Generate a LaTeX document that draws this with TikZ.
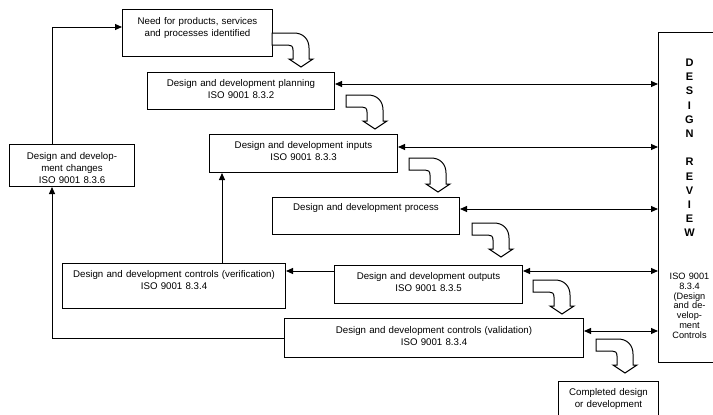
\documentclass[tikz,border=0pt]{standalone}
\usepackage{fontspec}
\setmainfont{Liberation Sans}
\usetikzlibrary{arrows.meta}
\tikzset{
  box/.style={draw, line width=1pt, align=center, inner sep=0pt, anchor=north west},
  arr/.style={-{Triangle[length=7pt,width=6pt]}, line width=1pt},
  dbl/.style={{Triangle[length=7pt,width=6pt]}-{Triangle[length=7pt,width=6pt]}, line width=1pt},
  turn/.pic={\draw[line width=1pt, fill=white] (0,0) -- (22,0) .. controls (31,0) and (37,6) .. (37,15) -- (37,26) -- (41,26) -- (29,34) -- (17,26) -- (21,26) -- (21,17) .. controls (21,13) and (19,12) .. (16,12) -- (0,12) -- cycle;}
}
\begin{document}
\begin{tikzpicture}[x=1pt, y=-1pt, font=\fontsize{9.7}{12}\selectfont]
    \useasboundingbox (0,0) rectangle (713,415);
    \node[box, text width=150pt, text height=15pt, text depth=32pt] (need) at (122,9) {Need for products, services\\and processes identified};
    \node[box, text width=187pt, text height=14pt, text depth=23pt] (plan) at (147,72) {Design and development planning\\ISO 9001 8.3.2};
    \node[box, text width=188pt, text height=14pt, text depth=24pt] (inputs) at (209,134) {Design and development inputs\\ISO 9001 8.3.3};
    \node[box, text width=187pt, text height=13pt, text depth=24pt] (process) at (272,197) {Design and development process};
    \node[box, text width=188pt, text height=14pt, text depth=24pt] (outputs) at (334,265) {Design and development outputs\\ISO 9001 8.3.5};
    \node[box, text width=223pt, text height=14pt, text depth=31pt] (verif) at (62,263) {Design and development controls (verification)\\ISO 9001 8.3.4};
    \node[box, text width=299pt, text height=15pt, text depth=24pt] (valid) at (284,318) {Design and development controls (validation)\\ISO 9001 8.3.4};
    \node[box, text width=125pt, text height=15pt, text depth=27pt] (changes) at (9,144) {Design and develop-\\ment changes\\ISO 9001 8.3.6};
    \node[box, text width=100pt, text height=14pt, text depth=30pt] (done) at (558,381) {Completed design\\or development};
    \node[box, text width=62pt, text height=34pt, text depth=296pt] (review) at (658,32) {{\bfseries\fontsize{11}{14.2}\selectfont D\\E\\S\\I\\G\\N\\[14.2pt]R\\E\\V\\I\\E\\W\par}\vspace{32.8pt}{\fontsize{9.2}{9.8}\selectfont ISO 9001\\8.3.4\\(Design\\and de-\\velop-\\ment\\Controls\par}};
    \draw[arr] (changes.north -| 52,0) |- (need.west |- 0,27);
    \draw[arr] (valid.west) -| (changes.south -| 52,0);
    \draw[arr] (verif.north -| 222,0) -- (inputs.south -| 222,0);
    \draw[arr] (outputs.west |- 0,271) -- (verif.east |- 0,271);
    \foreach \n/\y in {plan/84, inputs/147, process/209, outputs/271, valid/331}
      \draw[dbl] (\n.east |- 0,\y) -- (review.west |- 0,\y);
    \foreach \p in {(272,33), (346,95), (409,158), (472,223), (533,280), (596,339)}
      \pic at \p {turn};
\end{tikzpicture}
\end{document}
